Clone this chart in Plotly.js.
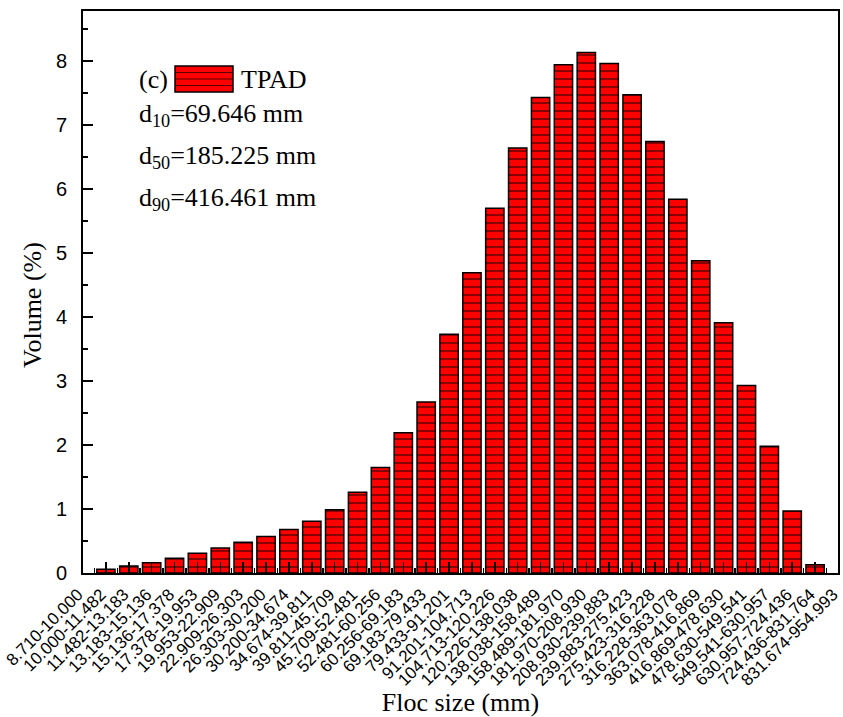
<!DOCTYPE html>
<html>
<head>
<meta charset="utf-8">
<script src="https://cdn.plot.ly/plotly-3.0.1.min.js"></script>
<style>
  html, body { margin: 0; padding: 0; background: #ffffff; }
  #chart { width: 843px; height: 717px; }
</style>
</head>
<body>
<div id="chart"></div>
<script>
// ---- data ----
const categories = [
  "8.710-10.000", "10.000-11.482", "11.482-13.183", "13.183-15.136", "15.136-17.378",
  "17.378-19.953", "19.953-22.909", "22.909-26.303", "26.303-30.200", "30.200-34.674",
  "34.674-39.811", "39.811-45.709", "45.709-52.481", "52.481-60.256", "60.256-69.183",
  "69.183-79.433", "79.433-91.201", "91.201-104.713", "104.713-120.226", "120.226-138.038",
  "138.038-158.489", "158.489-181.970", "181.970-208.930", "208.930-239.883", "239.883-275.423",
  "275.423-316.228", "316.228-363.078", "363.078-416.869", "416.869-478.630", "478.630-549.541",
  "549.541-630.957", "630.957-724.436", "724.436-831.764", "831.674-954.993"
];
const volume = [
  null, 0.06, 0.11, 0.16, 0.23, 0.31, 0.39, 0.48, 0.57, 0.68,
  0.81, 0.99, 1.26, 1.65, 2.19, 2.67, 3.73, 4.69, 5.70, 6.64,
  7.43, 7.94, 8.13, 7.96, 7.47, 6.74, 5.84, 4.88, 3.91, 2.93,
  1.98, 0.97, 0.13, null
];
const seriesName = "TPAD";
const panelLabel = "(c)";
const statLines = [
  "d<sub>10</sub>=69.646 mm",
  "d<sub>50</sub>=185.225 mm",
  "d<sub>90</sub>=416.461 mm"
];
const yTickVals = [0, 1, 2, 3, 4, 5, 6, 7, 8];
const xTitle = "Floc size (mm)";
const yTitle = "Volume (%)";

// ---- layout helpers (pixel -> paper) ----
const W = 843, H = 717;
const M = { l: 83, r: 5, t: 11, b: 144 };
const PW = W - M.l - M.r, PH = H - M.t - M.b;
const px = v => (v - M.l) / PW;
const py = v => (H - M.b - v) / PH;

const idx = categories.map((c, i) => i);
const serif = "Liberation Serif, Times New Roman, serif";
const sans = "Liberation Sans, Arial, sans-serif";

const trace = {
  type: "bar",
  name: seriesName,
  x: idx,
  y: volume,
  width: 0.8,
  marker: {
    color: "#ff0000",
    line: { color: "#000000", width: 1.5 },
    pattern: { shape: "-", size: 8, solidity: 0.18, fgcolor: "#5a0000", bgcolor: "#ff0000", fillmode: "replace" }
  },
  hoverinfo: "x+y",
  showlegend: false
};

// legend swatch drawn as shapes
const sw = { x0: 175, x1: 233, y0: 66, y1: 92 };
const shapes = [
  { type: "rect", xref: "paper", yref: "paper", x0: px(sw.x0), x1: px(sw.x1), y0: py(sw.y1), y1: py(sw.y0),
    fillcolor: "#ff0000", line: { color: "#000000", width: 1.5 } }
];
[72.5, 79, 85.5].forEach(yy => shapes.push({
  type: "line", xref: "paper", yref: "paper", x0: px(sw.x0 + 1), x1: px(sw.x1 - 1), y0: py(yy), y1: py(yy),
  line: { color: "#5a0000", width: 1.2 }
}));

const annotations = [
  { text: panelLabel, x: px(137), y: py(79), xref: "paper", yref: "paper", xanchor: "left", yanchor: "middle",
    showarrow: false, font: { family: serif, size: 26, color: "#000" } },
  { text: seriesName, x: px(239), y: py(79), xref: "paper", yref: "paper", xanchor: "left", yanchor: "middle",
    showarrow: false, font: { family: serif, size: 26, color: "#000" } },
  { text: yTitle, x: px(32), y: py(305), xref: "paper", yref: "paper", xanchor: "center", yanchor: "middle",
    textangle: -90, showarrow: false, font: { family: serif, size: 26, color: "#000" } }
];
const statY = [115, 157, 199];
statLines.forEach((t, i) => annotations.push({
  text: t, x: px(137), y: py(statY[i]), xref: "paper", yref: "paper", xanchor: "left", yanchor: "middle",
  showarrow: false, font: { family: serif, size: 26, color: "#000" }
}));

const layout = {
  width: W, height: H,
  margin: M,
  paper_bgcolor: "#ffffff",
  plot_bgcolor: "#ffffff",
  showlegend: false,
  xaxis: {
    range: [-0.001, categories.length - 1 + 0.001],
    tickmode: "array",
    tickvals: idx,
    ticktext: categories,
    tickangle: -45,
    ticklabeloverflow: "allow",
    ticklabelshift: -5,
    ticks: "inside", ticklen: 11, tickwidth: 1.5, tickcolor: "#000",
    minor: { tickmode: "linear", tick0: 0.5, dtick: 1, ticks: "inside", ticklen: 5, tickwidth: 1.5, tickcolor: "#000", showgrid: false },
    showline: true, linewidth: 2, linecolor: "#000", mirror: true,
    showgrid: false, zeroline: false,
    tickfont: { family: sans, size: 17, color: "#000" },
    ticklabelstandoff: 3,
    title: { text: xTitle, font: { family: serif, size: 26, color: "#000" }, standoff: 4 },
    automargin: false
  },
  yaxis: {
    range: [0, 8.78],
    tickmode: "array",
    tickvals: yTickVals,
    ticks: "inside", ticklen: 10, tickwidth: 1.5, tickcolor: "#000",
    minor: { tickmode: "linear", tick0: 0, dtick: 0.5, ticks: "inside", ticklen: 5, tickwidth: 1.5, tickcolor: "#000", showgrid: false },
    showline: true, linewidth: 2, linecolor: "#000", mirror: true,
    showgrid: false, zeroline: false,
    tickfont: { family: sans, size: 20, color: "#000" },
    ticklabelstandoff: 10,
    automargin: false
  },
  shapes: shapes,
  annotations: annotations
};

Plotly.newPlot("chart", [trace], layout, { displayModeBar: false, staticPlot: true });
</script>
</body>
</html>
